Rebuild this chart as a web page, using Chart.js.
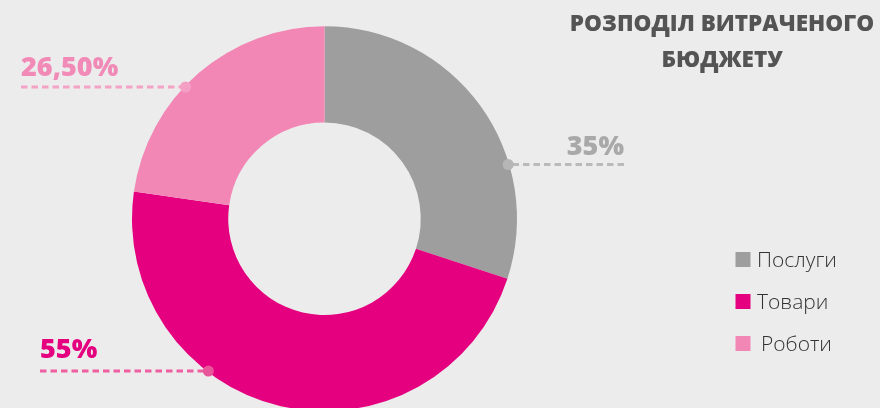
<!DOCTYPE html>
<html>
<head>
<meta charset="utf-8">
<script src="https://cdn.jsdelivr.net/npm/chart.js@4.4.0/dist/chart.umd.min.js"></script>
<style>
  html, body { margin: 0; padding: 0; background: #ececec; overflow: hidden; }
  #wrap { position: absolute; left: 0; top: 0; width: 880px; height: 420px; }
</style>
</head>
<body>
<div id="wrap"><canvas id="c" width="880" height="420"></canvas></div>
<script>
// ---- data ----
const categories = ['Послуги', 'Товари', 'Роботи'];
const values = [35, 55, 26.5];
const valueLabels = ['35%', '55%', '26,50%'];
const titleLines = ['РОЗПОДІЛ ВИТРАЧЕНОГО', 'БЮДЖЕТУ'];

// ---- styles ----
const sliceColors = ['#9d9e9d', '#e4007f', '#f287b6'];
const labelColors = ['#a9a9a9', '#e4007f', '#f28ab8'];
const dashColors = ['#bababa', '#ee5ea0', '#f4a2c6'];
const dotColors = ['#b6b6b6', '#e9559a', '#f3a0c4'];
// leader layout: y of line, side, end x of line
const leaders = [
  { y: 164.5, side: 1, endX: 624, textY: 155 },
  { y: 371, side: -1, endX: 40, textY: 358 },
  { y: 87, side: -1, endX: 21, textY: 76 }
];

const overlay = {
  id: 'overlay',
  afterDatasetsDraw(chart) {
    const ctx = chart.ctx;
    const meta = chart.getDatasetMeta(0);
    ctx.save();
    meta.data.forEach((arc, i) => {
      const L = leaders[i];
      const R = arc.outerRadius - 1;
      const dy = L.y - arc.y;
      const dotX = arc.x + L.side * Math.sqrt(Math.max(R * R - dy * dy, 0));
      ctx.strokeStyle = dashColors[i];
      ctx.lineWidth = 3;
      ctx.setLineDash([6.5, 4]);
      ctx.beginPath();
      ctx.moveTo(L.endX, L.y);
      ctx.lineTo(dotX, L.y);
      ctx.stroke();
      ctx.setLineDash([]);
      ctx.fillStyle = dotColors[i];
      ctx.beginPath();
      ctx.arc(dotX, L.y, 5.5, 0, Math.PI * 2);
      ctx.fill();
      ctx.fillStyle = labelColors[i];
      ctx.font = '800 27px "Open Sans"';
      ctx.textBaseline = 'alphabetic';
      ctx.textAlign = L.side > 0 ? 'right' : 'left';
      ctx.fillText(chart.data.datasets[0].valueLabels[i], L.endX, L.textY);
    });

    ctx.fillStyle = '#545454';
    ctx.textAlign = 'center';
    ctx.font = '800 22.5px "Open Sans"';
    ctx.fillText(titleLines[0], 722, 31);
    ctx.fillText(titleLines[1], 722, 67);

    ctx.textAlign = 'left';
    ctx.font = '300 21px "Open Sans"';
    chart.data.labels.forEach((lab, i) => {
      const y = 252 + i * 42;
      ctx.fillStyle = sliceColors[i];
      ctx.fillRect(735.5, y, 15, 15);
      ctx.fillStyle = '#333333';
      ctx.fillText(lab, i === 2 ? 761 : 757, y + 15);
    });
    ctx.restore();
  }
};

new Chart(document.getElementById('c'), {
  type: 'doughnut',
  data: {
    labels: categories,
    datasets: [{
      data: values,
      valueLabels: valueLabels,
      backgroundColor: sliceColors,
      borderWidth: 0,
      hoverOffset: 0,
      offset: 0
    }]
  },
  options: {
    responsive: false,
    animation: false,
    events: [],
    cutout: '50%',
    layout: { padding: { left: 132, right: 363, top: 26, bottom: 8.5 } },
    plugins: { legend: { display: false }, tooltip: { enabled: false }, title: { display: false } }
  },
  plugins: [overlay]
});
</script>
</body>
</html>
